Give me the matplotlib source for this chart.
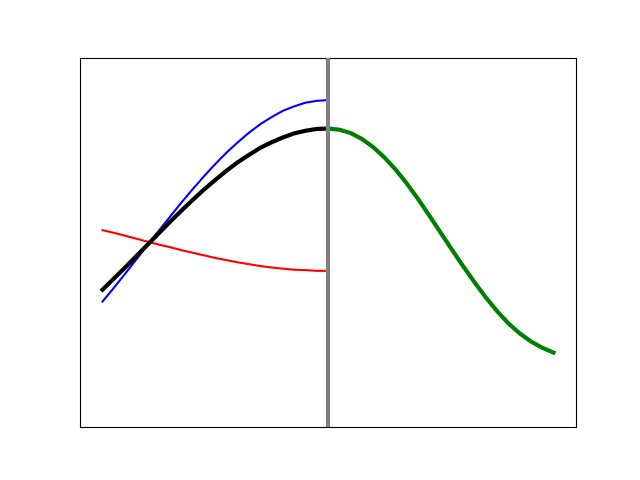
import matplotlib
matplotlib.use("Agg")
import matplotlib.pyplot as plt

# left half: x runs 0..1, right half: 1..2
x_left = [0.00, 0.05, 0.10, 0.15, 0.20, 0.25, 0.30, 0.35, 0.40, 0.45, 0.50,
          0.55, 0.60, 0.65, 0.70, 0.75, 0.80, 0.85, 0.90, 0.95, 1.00]
x_right = [1.00, 1.05, 1.10, 1.15, 1.20, 1.25, 1.30, 1.35, 1.40, 1.45, 1.50,
           1.55, 1.60, 1.65, 1.70, 1.75, 1.80, 1.85, 1.90, 1.95, 2.00]

blue_values = [0.340, 0.377, 0.415, 0.454, 0.493, 0.532, 0.570, 0.608, 0.644, 0.679, 0.712,
               0.743, 0.771, 0.797, 0.820, 0.839, 0.856, 0.868, 0.878, 0.883, 0.885]
red_values = [0.533, 0.526, 0.518, 0.510, 0.502, 0.494, 0.487, 0.479, 0.472, 0.465, 0.458,
              0.452, 0.446, 0.441, 0.436, 0.432, 0.429, 0.426, 0.425, 0.423, 0.423]
black_values = [0.372, 0.402, 0.432, 0.463, 0.494, 0.525, 0.556, 0.586, 0.615, 0.643, 0.669,
                0.694, 0.717, 0.737, 0.756, 0.771, 0.784, 0.795, 0.802, 0.807, 0.808]
green_values = [0.808, 0.805, 0.796, 0.780, 0.758, 0.730, 0.697, 0.659, 0.617, 0.572, 0.526,
                0.480, 0.435, 0.392, 0.351, 0.314, 0.281, 0.254, 0.232, 0.215, 0.202]

split_x = 1.0

fig, ax = plt.subplots(figsize=(6.4, 4.8), dpi=100)

ax.plot(x_left, blue_values, color="blue", lw=1.5)
ax.plot(x_left, red_values, color="red", lw=1.5)
ax.plot(x_left, black_values, color="black", lw=3)
ax.plot(x_right, green_values, color="green", lw=3)
ax.axvline(split_x, color="gray", lw=3, zorder=5)

ax.set_ylim(0, 1)
ax.set_xticks([])
ax.set_yticks([])

fig.savefig("out.png", dpi=100)
